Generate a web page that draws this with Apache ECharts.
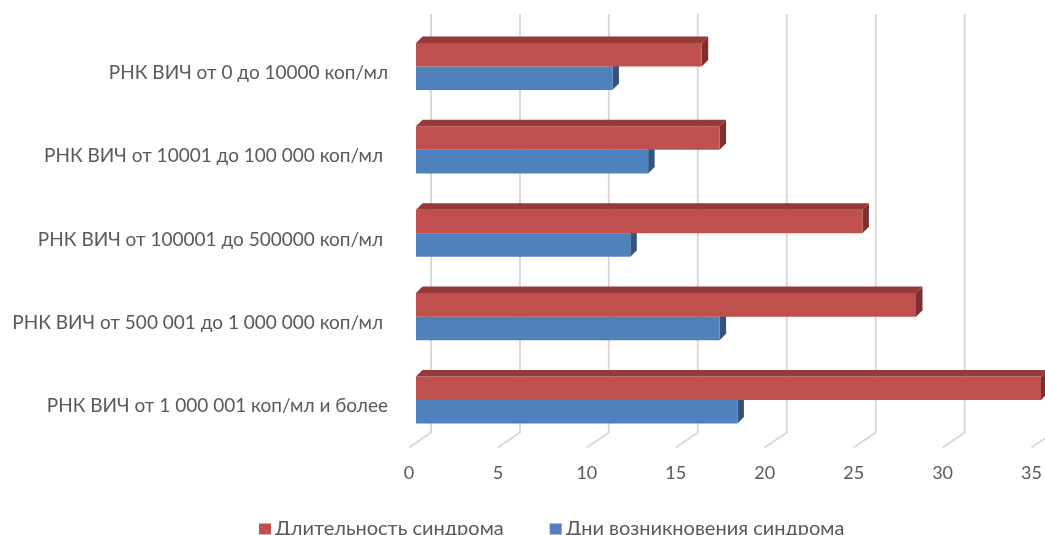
<!DOCTYPE html>
<html>
<head>
<meta charset="utf-8">
<script src="https://cdn.jsdelivr.net/npm/echarts@6/dist/echarts.min.js"></script>
<style>
  html, body { margin: 0; padding: 0; background: #fff; }
  #chart { width: 1045px; height: 535px; }
</style>
</head>
<body>
<div id="chart"></div>
<script>
// Viral load groups (top to bottom)
const categories = [
  'РНК ВИЧ от 0 до 10000 коп/мл',
  'РНК ВИЧ от 10001 до 100 000 коп/мл ',
  'РНК ВИЧ от 100001 до 500000 коп/мл ',
  'РНК ВИЧ от 500 001 до 1 000 000 коп/мл ',
  'РНК ВИЧ от 1 000 001 коп/мл и более'
];
const seriesNames = ['Длительность синдрома', 'Дни возникновения синдрома'];
// Days, per group
const durationDays = [16, 17, 25, 28, 35];
const onsetDays = [11, 13, 12, 17, 18];
// Value axis ticks
const valueTicks = [0, 5, 10, 15, 20, 25, 30, 35];

const FONT = 'Lato';
const TEXT = '#595959';
const DEPTH = 6.5;        // extrusion of the 3D boxes
const GRID_LEFT = 416;
const GRID_WIDTH = 625;

// Draws one extruded bar: right side face, front face and (optionally) top face
function barRenderer(upper, colors) {
  return function (params, api) {
    const cat = api.value(1);
    const val = api.value(0);
    const p0 = api.coord([0, cat]);
    const p1 = api.coord([val, cat]);
    const band = api.size([0, 1])[1];
    const h = band * 0.283;
    const yTop = upper ? p0[1] - h : p0[1];
    const yBot = yTop + h;
    const x0 = p0[0], x1 = p1[0], d = DEPTH;
    const children = [
      { type: 'polygon', shape: { points: [[x1, yTop], [x1 + d, yTop - d], [x1 + d, yBot - d], [x1, yBot]] },
        style: { fill: colors.side } },
      { type: 'rect', shape: { x: x0, y: yTop, width: x1 - x0, height: h },
        style: { fill: colors.front } }
    ];
    if (colors.top) {
      children.push({ type: 'polygon',
        shape: { points: [[x0, yTop], [x0 + d, yTop - d], [x1 + d, yTop - d], [x1, yTop]] },
        style: { fill: colors.top } });
    }
    return { type: 'group', children };
  };
}

// Back-wall grid lines with their slanted run across the floor
function gridLineRenderer(params, api) {
  const cs = params.coordSys;
  const x = api.coord([api.value(0), 0])[0];
  const bottom = cs.y + cs.height;
  return {
    type: 'polyline',
    shape: { points: [[x, bottom], [x + 22, bottom - 15], [x + 22, 14]] },
    style: { stroke: '#d9d9d9', lineWidth: 2, fill: null }
  };
}

const chart = echarts.init(document.getElementById('chart'), null, { renderer: 'canvas' });

chart.setOption({
  backgroundColor: '#ffffff',
  animation: false,
  textStyle: { fontFamily: FONT },
  legend: {
    data: [seriesNames[0], seriesNames[1]],
    top: 514,
    left: 254,
    icon: 'rect',
    itemWidth: 12,
    itemHeight: 11,
    itemGap: 46,
    textStyle: { fontFamily: FONT, fontSize: 20, color: TEXT, padding: [0, 0, 0, -1] }
  },
  grid: [
    { left: GRID_LEFT, width: GRID_WIDTH, top: 24.8, height: 416.9 },
    { left: GRID_LEFT - 7, width: GRID_WIDTH, top: 31.5, height: 416 }
  ],
  xAxis: [
    { type: 'value', gridIndex: 0, min: 0, max: 35, interval: 5, show: false },
    { type: 'value', gridIndex: 1, min: 0, max: 35, interval: 5,
      axisLine: { show: false }, axisTick: { show: false }, splitLine: { show: false },
      axisLabel: { margin: 17, fontFamily: FONT, fontSize: 18, color: TEXT } }
  ],
  yAxis: [
    { type: 'category', gridIndex: 0, data: categories, inverse: true, show: false },
    { type: 'category', gridIndex: 1, data: categories, inverse: true,
      axisLine: { show: false }, axisTick: { show: false }, splitLine: { show: false },
      axisLabel: { margin: 21, fontFamily: FONT, fontSize: 19, color: TEXT } }
  ],
  series: [
    {
      type: 'custom', name: 'grid', xAxisIndex: 1, yAxisIndex: 1, z: 1, silent: true,
      data: valueTicks.map(v => [v, 0]),
      encode: { x: 0, y: 1 },
      renderItem: gridLineRenderer
    },
    {
      type: 'custom', name: seriesNames[1], xAxisIndex: 0, yAxisIndex: 0, z: 2,
      itemStyle: { color: '#4f81bd' },
      data: onsetDays.map((v, i) => [v, i]),
      encode: { x: 0, y: 1 },
      renderItem: barRenderer(false, { front: '#4f81bd', side: '#34547d' })
    },
    {
      type: 'custom', name: seriesNames[0], xAxisIndex: 0, yAxisIndex: 0, z: 3,
      itemStyle: { color: '#c0504d' },
      data: durationDays.map((v, i) => [v, i]),
      encode: { x: 0, y: 1 },
      renderItem: barRenderer(true, { front: '#c0504d', side: '#7f302e', top: '#943a38' })
    }
  ]
});
</script>
</body>
</html>
